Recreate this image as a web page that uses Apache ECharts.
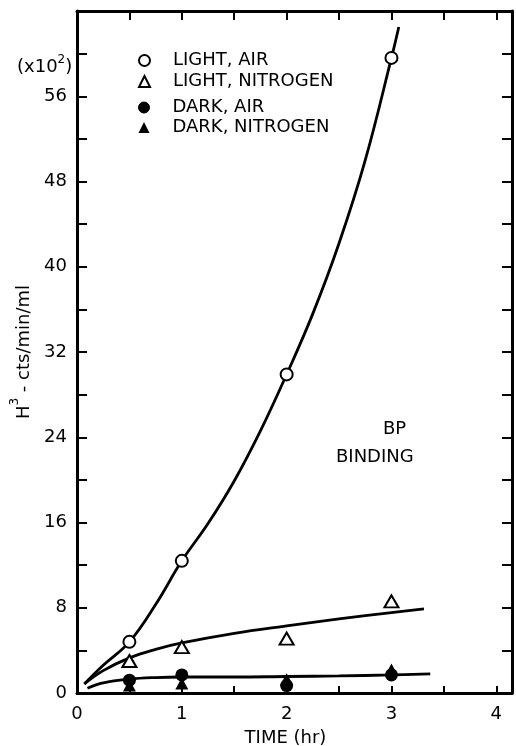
<!DOCTYPE html>
<html>
<head>
<meta charset="utf-8">
<script src="https://cdn.jsdelivr.net/npm/echarts@6/dist/echarts.min.js"></script>
<style>html,body{margin:0;padding:0;background:#fff;}#c{width:516px;height:746px;}</style>
</head>
<body>
<div id="c"></div>
<script>
// ---- data ----
const hours = [0.5, 1, 2, 3];
const lightAir = [4.8, 12.4, 29.9, 59.6];
const lightNitrogen = [3.0, 4.3, 5.1, 8.6];
const darkAir = [1.2, 1.7, 0.7, 1.7];
const darkNitrogen = [0.7, 0.9, 1.3, 2.2];

// hand-drawn fitted curves
const lightAirCurveX = [0.07, 0.25, 0.5, 0.75, 1.0, 1.25, 1.5, 1.75, 2.0, 2.25, 2.5, 2.75, 3.0, 3.07];
const lightAirCurveY = [0.85, 2.6, 4.8, 8.3, 12.4, 15.9, 19.9, 24.6, 29.9, 35.6, 42.2, 50.0, 59.6, 62.5];
const lightN2CurveX = [0.07, 0.25, 0.5, 0.75, 1.0, 1.5, 2.0, 2.5, 3.0, 3.31];
const lightN2CurveY = [0.85, 2.1, 3.3, 4.1, 4.7, 5.6, 6.3, 6.95, 7.55, 7.9];
const darkCurveX = [0.1, 0.25, 0.5, 0.75, 1.0, 1.5, 2.0, 2.5, 3.0, 3.37];
const darkCurveY = [0.45, 0.95, 1.3, 1.45, 1.5, 1.5, 1.55, 1.6, 1.7, 1.8];

const xTicks = [0, 1, 2, 3, 4];
const yTicks = [0, 8, 16, 24, 32, 40, 48, 56];

const seriesNames = ['LIGHT, AIR', 'LIGHT, NITROGEN', 'DARK, AIR', 'DARK, NITROGEN'];

const zip = (xs, ys) => xs.map((x, i) => [x, ys[i]]);
const FONT = 'DejaVu Sans';
const INK = '#000';

const chart = echarts.init(document.getElementById('c'), null, {renderer: 'canvas'});

const curve = (xs, ys) => ({
  type: 'line', data: zip(xs, ys), smooth: 0.4, showSymbol: false, symbol: 'none',
  lineStyle: {color: INK, width: 2.8}, z: 2, silent: true, legendHoverLink: false
});

const legendText = {fontFamily: FONT, fontSize: 18, color: INK, lineHeight: 19, padding: [0, 0, 0, 18]};

const option = {
  backgroundColor: '#fff',
  animation: false,
  textStyle: {fontFamily: FONT, color: INK},
  grid: {left: 77, right: 4, top: 11, bottom: 53, containLabel: false, outerBoundsMode: 'none'},
  legend: [
    {
      data: [seriesNames[0], seriesNames[1]], orient: 'vertical', left: 133, top: 46,
      itemWidth: 11, itemHeight: 11, itemGap: 2,
      textStyle: legendText, selectedMode: false
    },
    {
      data: [{name: seriesNames[2], itemStyle: {borderColor: INK, borderWidth: 1}}, seriesNames[3]],
      orient: 'vertical', left: 133, top: 93,
      itemWidth: 11, itemHeight: 11, itemGap: 1,
      textStyle: legendText, selectedMode: false
    }
  ],
  xAxis: [
    {
      type: 'value', min: 0, max: 4.15, interval: 0.5, position: 'bottom',
      name: 'TIME (hr)', nameLocation: 'middle', nameGap: 36,
      nameTextStyle: {fontFamily: FONT, fontSize: 18, color: INK, padding: [0, 18, 0, 0]},
      axisLine: {show: true, onZero: false, lineStyle: {color: INK, width: 3}},
      axisTick: {show: true, inside: true, length: 7, lineStyle: {color: INK, width: 2}},
      axisLabel: {
        fontFamily: FONT, fontSize: 18, color: INK, margin: 12,
        formatter: v => (xTicks.indexOf(v) >= 0 ? String(v) : '')
      },
      splitLine: {show: false}
    },
    {
      type: 'value', min: 0, max: 4.15, interval: 0.5, position: 'top',
      axisLine: {show: true, onZero: false, lineStyle: {color: INK, width: 3}},
      axisTick: {show: true, inside: true, length: 9, lineStyle: {color: INK, width: 2}},
      axisLabel: {show: false}, splitLine: {show: false}
    }
  ],
  yAxis: [
    {
      type: 'value', min: 0, max: 64, interval: 4, position: 'left',
      name: '{a|H}{s|3}{a| - cts/min/ml}', nameLocation: 'middle', nameRotate: 90, nameGap: 42,
      nameTextStyle: {
        fontFamily: FONT, fontSize: 18, color: INK,
        rich: {
          a: {fontFamily: FONT, fontSize: 18, color: INK, lineHeight: 24, verticalAlign: 'bottom'},
          s: {fontFamily: FONT, fontSize: 12, color: INK, lineHeight: 24, verticalAlign: 'top'}
        }
      },
      axisLine: {show: true, onZero: false, lineStyle: {color: INK, width: 3}},
      axisTick: {show: true, inside: true, length: 10, lineStyle: {color: INK, width: 2}},
      axisLabel: {
        fontFamily: FONT, fontSize: 18, color: INK, margin: 10,
        formatter: v => (yTicks.indexOf(v) >= 0 ? String(v) : '')
      },
      splitLine: {show: false}
    },
    {
      type: 'value', min: 0, max: 64, interval: 4, position: 'right',
      axisLine: {show: true, onZero: false, lineStyle: {color: INK, width: 3}},
      axisTick: {show: true, inside: true, length: 10, lineStyle: {color: INK, width: 2}},
      axisLabel: {show: false}, splitLine: {show: false}
    }
  ],
  graphic: [
    {
      type: 'text', left: 17, top: 54, z: 10,
      style: {
        text: '{p|(x10}{s|2}{p|)}', fill: INK,
        rich: {
          p: {fontFamily: FONT, fontSize: 18, fill: INK, lineHeight: 22, verticalAlign: 'bottom'},
          s: {fontFamily: FONT, fontSize: 12, fill: INK, lineHeight: 22, verticalAlign: 'top'}
        }
      }
    },
    {type: 'text', left: 383, top: 420, style: {text: 'BP', font: '18px "DejaVu Sans"', fill: INK}},
    {type: 'text', left: 336, top: 448, style: {text: 'BINDING', font: '18px "DejaVu Sans"', fill: INK}}
  ],
  series: [
    curve(lightAirCurveX, lightAirCurveY),
    curve(lightN2CurveX, lightN2CurveY),
    curve(darkCurveX, darkCurveY),
    {
      name: seriesNames[0], type: 'scatter', data: zip(hours, lightAir), symbol: 'circle', symbolSize: 12, z: 5,
      itemStyle: {color: '#fff', borderColor: INK, borderWidth: 2, opacity: 1}
    },
    {
      name: seriesNames[1], type: 'scatter', data: zip(hours, lightNitrogen), symbol: 'triangle', symbolSize: [14, 12], z: 5,
      itemStyle: {color: '#fff', borderColor: INK, borderWidth: 2, opacity: 1}
    },
    {
      name: seriesNames[2], type: 'scatter', data: zip(hours, darkAir), symbol: 'circle', symbolSize: 13, z: 6,
      itemStyle: {color: INK, opacity: 1}
    },
    {
      name: seriesNames[3], type: 'scatter', data: zip(hours, darkNitrogen), symbol: 'triangle', symbolSize: [13, 12], z: 6,
      itemStyle: {color: INK, opacity: 1}
    }
  ]
};
chart.setOption(option);
</script>
</body>
</html>
